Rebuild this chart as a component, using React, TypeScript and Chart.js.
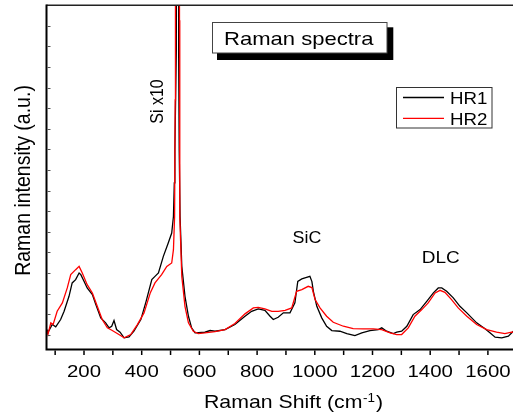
import { useEffect, useRef } from 'react';
import { Chart, registerables } from 'chart.js';

Chart.register(...registerables);

// Raman shift (cm-1) and intensity (a.u.)
const hr1X = [71, 75, 90, 102, 119, 131, 148, 159, 171, 183, 189, 200, 211, 229, 241, 258, 275, 287, 296, 304, 313, 325, 339, 356, 373, 397, 415, 435, 446, 458, 475, 492, 504, 510, 513, 515, 520, 524, 528, 530, 533, 539, 550, 562, 573, 585, 619, 637, 654, 689, 723, 758, 781, 804, 827, 845, 856, 873, 891, 914, 931, 941, 955, 966, 983, 990, 995, 1007, 1024, 1041, 1059, 1087, 1111, 1139, 1163, 1191, 1220, 1232, 1249, 1272, 1284, 1301, 1319, 1341, 1365, 1388, 1411, 1428, 1440, 1457, 1480, 1503, 1527, 1561, 1590, 1607, 1625, 1648, 1671, 1688, 1700];
const hr1Y = [20, 17, 25, 22.7, 30, 38.3, 53.3, 66.7, 70, 76.7, 75, 68.3, 61.7, 55, 45, 31.7, 26.7, 21.7, 23.3, 29, 20, 17.3, 11.7, 12.7, 18.3, 30, 48, 70, 73.3, 76.7, 93.3, 106.7, 116.7, 133.3, 167, 200, 300, 3000, 300, 200, 133, 83.3, 53.3, 33.3, 21.7, 16.7, 17.3, 19, 18.3, 20, 25, 33.3, 38.3, 40.7, 39.3, 33.3, 30, 32.3, 36.7, 36.7, 46.7, 68.3, 70.7, 71.7, 73.3, 68, 58.3, 43.3, 31.7, 23.3, 19, 18.3, 16, 14, 16.7, 19, 20, 21.7, 18.3, 16, 17.3, 18.3, 23.3, 35, 40, 48.3, 56.7, 61.7, 61.7, 58.3, 51.7, 43.3, 36.7, 26.7, 20.7, 16.7, 12.3, 11.7, 13.3, 18.3, 20];

const hr2X = [71, 75, 85, 93, 107, 125, 142, 154, 171, 183, 194, 211, 229, 246, 263, 281, 298, 321, 339, 362, 385, 408, 430, 446, 469, 487, 504, 510, 514, 516, 517, 524, 531, 532, 539, 550, 562, 579, 596, 619, 654, 689, 723, 758, 787, 804, 827, 851, 873, 897, 920, 937, 955, 977, 990, 1001, 1018, 1041, 1064, 1099, 1133, 1168, 1203, 1232, 1261, 1284, 1301, 1324, 1347, 1371, 1393, 1417, 1434, 1451, 1474, 1497, 1527, 1561, 1596, 1630, 1659, 1682, 1700];
const hr2Y = [19, 15, 26.7, 25, 38.3, 46.7, 61.7, 75, 80, 83.3, 76.7, 65, 56.7, 43.3, 30, 21.7, 19, 15, 11.7, 15, 25, 36.7, 57, 66.7, 75, 83.3, 86.7, 100, 133, 250, 330, 3000, 330, 133, 73.3, 43.3, 26.7, 18.3, 16, 16.7, 18, 20, 26, 35.7, 41.7, 42.3, 40.7, 38.3, 38.3, 39.3, 41.7, 58.3, 60, 63.3, 62, 50, 41.7, 33.3, 27.3, 23.3, 21, 20.7, 20.7, 20, 16.7, 15, 15, 21.7, 33.3, 40, 46.7, 56.7, 59.3, 57.3, 50, 41.7, 33.3, 25, 20, 17.3, 16, 17.3, 18];

const xTickLabels = ['200', '400', '600', '800', '1000', '1200', '1400', '1600'];
const yTicks = [15, 36, 56, 77, 98, 118, 139, 159, 180, 201, 221, 242, 262, 283, 304, 324];
const seriesNames = ['HR1', 'HR2'];
const seriesColors = ['#000000', '#ff0000'];

const FONT = '"Liberation Sans", Arial, sans-serif';

function stretchText(ctx: CanvasRenderingContext2D, text: string, x: number, y: number, size: number, sx: number, align: CanvasTextAlign = 'left') {
  ctx.save();
  ctx.translate(x, y);
  ctx.scale(sx, 1);
  ctx.font = `${size}px ${FONT}`;
  ctx.textAlign = align;
  ctx.textBaseline = 'alphabetic';
  ctx.fillStyle = '#000';
  ctx.fillText(text, 0, 0);
  ctx.restore();
}

function vertText(ctx: CanvasRenderingContext2D, text: string, x: number, y: number, size: number, sy: number) {
  ctx.save();
  ctx.translate(x, y);
  ctx.rotate(-Math.PI / 2);
  ctx.scale(1, sy);
  ctx.font = `${size}px ${FONT}`;
  ctx.textAlign = 'center';
  ctx.textBaseline = 'alphabetic';
  ctx.fillStyle = '#000';
  ctx.fillText(text, 0, 0);
  ctx.restore();
}

const deco = {
  id: 'deco',
  afterDraw(chart: any) {
    const ctx: CanvasRenderingContext2D = chart.ctx;
    const { left, right, top, bottom } = chart.chartArea;
    const xs = chart.scales.x;
    const ys = chart.scales.y;
    ctx.save();

    // frame
    ctx.strokeStyle = '#222';
    ctx.lineWidth = 1.4;
    ctx.beginPath();
    ctx.moveTo(left, top);
    ctx.lineTo(right + 5, top);
    ctx.stroke();
    ctx.strokeStyle = '#000';
    ctx.lineWidth = 2;
    ctx.beginPath();
    ctx.moveTo(left, top - 0.7);
    ctx.lineTo(left, bottom + 1);
    ctx.moveTo(left - 1, bottom);
    ctx.lineTo(right + 5, bottom);
    ctx.stroke();

    // x ticks (outward)
    ctx.lineWidth = 1.5;
    xs.ticks.forEach((t: any) => {
      const px = xs.getPixelForValue(t.value);
      ctx.beginPath();
      ctx.moveTo(px, bottom + 1);
      ctx.lineTo(px, bottom + 5.5);
      ctx.stroke();
    });
    // y ticks (inward)
    ctx.strokeStyle = '#555';
    ctx.lineWidth = 1;
    ys.ticks.forEach((t: any) => {
      const py = Math.round(ys.getPixelForValue(t.value)) + 0.5;
      ctx.beginPath();
      ctx.moveTo(left + 1, py);
      ctx.lineTo(left + 4, py);
      ctx.stroke();
    });

    // x tick labels
    xTickLabels.forEach((lab) => {
      stretchText(ctx, lab, xs.getPixelForValue(Number(lab)), 377, 17, 1.2, 'center');
    });

    // x title with superscript
    const sx = 1.12;
    let cx = 204;
    const main = 'Raman Shift (cm';
    stretchText(ctx, main, cx, 408.3, 19, sx);
    ctx.font = `19px ${FONT}`;
    cx += ctx.measureText(main).width * sx;
    stretchText(ctx, '-1', cx + 0.5, 401.5, 12, sx);
    ctx.font = `12px ${FONT}`;
    cx += ctx.measureText('-1').width * sx + 1.5;
    stretchText(ctx, ')', cx, 408.3, 19, sx);

    // y title
    vertText(ctx, 'Raman intensity (a.u.)', 29.5, 180.5, 19.5, 1.12);

    // annotations
    vertText(ctx, 'Si x10', 163, 101.5, 16, 1.15);
    stretchText(ctx, 'SiC', 307, 243.3, 17, 1.05, 'center');
    stretchText(ctx, 'DLC', 440.7, 263.3, 16.5, 1.15, 'center');

    // title box with shadow
    ctx.fillStyle = '#000';
    ctx.fillRect(217, 27.3, 176.3, 32.7);
    ctx.fillStyle = '#fff';
    ctx.fillRect(212, 22, 175, 31);
    ctx.strokeStyle = '#444';
    ctx.lineWidth = 1;
    ctx.strokeRect(212.5, 22.5, 174.5, 30.5);
    stretchText(ctx, 'Raman spectra', 224, 45, 19, 1.16);

    // legend
    ctx.fillStyle = '#fff';
    ctx.fillRect(396.5, 87.5, 95.5, 40.5);
    ctx.strokeStyle = '#333';
    ctx.lineWidth = 1;
    ctx.strokeRect(396.5, 87.5, 95.5, 40.5);
    const ly = [97.5, 118.3];
    const lb = [104, 124.7];
    seriesNames.forEach((n, i) => {
      ctx.strokeStyle = seriesColors[i];
      ctx.lineWidth = 1.3;
      ctx.beginPath();
      ctx.moveTo(403, ly[i]);
      ctx.lineTo(444, ly[i]);
      ctx.stroke();
      stretchText(ctx, n, 450, lb[i], 17, 1.1);
    });

    ctx.restore();
  },
};

export default function App() {
  const ref = useRef<HTMLCanvasElement>(null);
  useEffect(() => {
    const chart = new Chart(ref.current!, {
      type: 'scatter',
      data: {
        datasets: [
          {
            label: seriesNames[0],
            data: hr1X.map((x, i) => ({ x, y: hr1Y[i] })),
            borderColor: seriesColors[0],
            backgroundColor: seriesColors[0],
            borderWidth: 1.3,
            showLine: true,
            pointRadius: 0,
            order: 2,
          },
          {
            label: seriesNames[1],
            data: hr2X.map((x, i) => ({ x, y: hr2Y[i] })),
            borderColor: seriesColors[1],
            backgroundColor: seriesColors[1],
            borderWidth: 1.3,
            showLine: true,
            pointRadius: 0,
            order: 1,
          },
        ],
      },
      options: {
        animation: false,
        responsive: false,
        devicePixelRatio: 1,
        events: [],
        layout: { padding: { top: 5.2, right: 3.25, left: 0, bottom: 0 } },
        plugins: { legend: { display: false }, tooltip: { enabled: false }, title: { display: false } },
        scales: {
          x: {
            type: 'linear',
            min: 70,
            max: 1700,
            ticks: { stepSize: 100, display: false, includeBounds: false },
            grid: { display: false },
            border: { display: false },
            afterFit: (s: any) => { s.height = 67.5; },
          },
          y: {
            type: 'linear',
            min: 0,
            max: 345,
            ticks: { display: false },
            grid: { display: false },
            border: { display: false },
            afterFit: (s: any) => { s.width = 46.5; },
            afterBuildTicks: (s: any) => { s.ticks = yTicks.map((v) => ({ value: v })); },
          },
        },
      } as any,
      plugins: [deco],
    });
    return () => chart.destroy();
  }, []);
  return (
    <div style={{ position: 'absolute', left: 0, top: 0, width: 513, height: 417, overflow: 'hidden', background: '#fff' }}>
      <canvas ref={ref} width={520} height={417} style={{ display: 'block' }} />
    </div>
  );
}
